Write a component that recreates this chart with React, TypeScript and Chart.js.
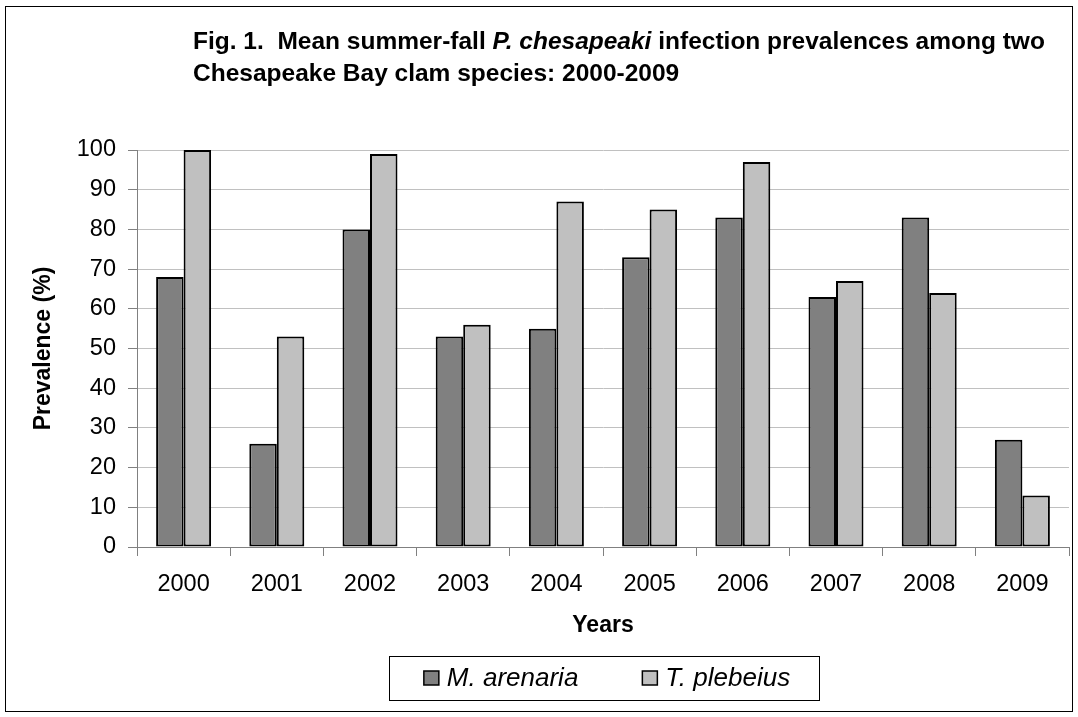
import React, { useEffect, useRef } from 'react';
import { Chart, registerables } from 'chart.js';

Chart.register(...registerables);

const FONT = '"Liberation Sans", Arial, sans-serif';

const years = ['2000', '2001', '2002', '2003', '2004', '2005', '2006', '2007', '2008', '2009'];
const mArenaria = [68, 26, 80, 53, 55, 73, 83, 63, 83, 27];
const tPlebeius = [100, 53, 99, 56, 87, 85, 97, 67, 64, 13];
const seriesNames = ['M. arenaria', 'T. plebeius'];
const seriesColors = ['#808080', '#c0c0c0'];
const yTicksMin = 0;
const yTicksMax = 100;
const yTicksStep = 10;
const titleLine1 = [
  { text: 'Fig. 1.  Mean summer-fall ', italic: false },
  { text: 'P. chesapeaki', italic: true },
  { text: ' infection prevalences among two', italic: false },
];
const titleLine2 = [{ text: 'Chesapeake Bay clam species: 2000-2009', italic: false }];
const yTitle = 'Prevalence (%)';
const xTitle = 'Years';

const decorPlugin = {
  id: 'decor',
  afterDraw(chart: any) {
    const ctx = chart.ctx as CanvasRenderingContext2D;
    const ca = chart.chartArea;
    ctx.save();
    // outer frame
    ctx.strokeStyle = '#000';
    ctx.lineWidth = 1;
    ctx.strokeRect(5.5, 6.5, 1067, 705);

    // title (rich text)
    ctx.fillStyle = '#000';
    ctx.textAlign = 'left';
    ctx.textBaseline = 'alphabetic';
    const drawRich = (segs: { text: string; italic: boolean }[], x: number, y: number) => {
      let cx = x;
      for (const s of segs) {
        ctx.font = `${s.italic ? 'italic ' : ''}bold 24.5px ${FONT}`;
        ctx.fillText(s.text, cx, y);
        cx += ctx.measureText(s.text).width;
      }
    };
    drawRich(titleLine1, ca.left + 56, 49);
    drawRich(titleLine2, ca.left + 56, 81);

    // legend
    const ds = chart.data.datasets;
    const legendFont = `italic 26px ${FONT}`;
    ctx.font = legendFont;
    const widths = ds.map((d: any) => ctx.measureText(d.label).width);
    const marker = 15;
    const gap = 8;
    const itemGap = 64;
    let total = 0;
    widths.forEach((w: number, i: number) => {
      total += marker + gap + w + (i < widths.length - 1 ? itemGap : 0);
    });
    const centerX = (ca.left + ca.right) / 2 + 4;
    const start = centerX - total / 2;
    const boxTop = ca.bottom + 109;
    const boxH = 44;
    ctx.strokeStyle = '#000';
    ctx.lineWidth = 1;
    ctx.strokeRect(Math.round(start - 35) + 0.5, Math.round(boxTop) + 0.5, Math.round(total + 64), boxH);
    let x = start;
    ds.forEach((d: any, i: number) => {
      const my = boxTop + 15;
      ctx.fillStyle = d.backgroundColor;
      ctx.fillRect(x, my, marker, marker - 1);
      ctx.strokeStyle = '#000';
      ctx.lineWidth = 1.5;
      ctx.strokeRect(x, my, marker, marker - 1);
      ctx.fillStyle = '#000';
      ctx.font = legendFont;
      ctx.fillText(d.label, x + marker + gap, boxTop + 30);
      x += marker + gap + widths[i] + itemGap;
    });
    ctx.restore();
  },
};

export default function App() {
  const canvasRef = useRef<HTMLCanvasElement | null>(null);

  useEffect(() => {
    if (!canvasRef.current) return;
    const chart = new Chart(canvasRef.current, {
      type: 'bar',
      data: {
        labels: years,
        datasets: [
          {
            label: seriesNames[0],
            data: mArenaria,
            backgroundColor: seriesColors[0],
            borderColor: '#000',
            borderWidth: 2,
            borderSkipped: false,
            categoryPercentage: 0.59,
            barPercentage: 1,
          },
          {
            label: seriesNames[1],
            data: tPlebeius,
            backgroundColor: seriesColors[1],
            borderColor: '#000',
            borderWidth: 2,
            borderSkipped: false,
            categoryPercentage: 0.59,
            barPercentage: 1,
          },
        ],
      },
      options: {
        animation: false,
        responsive: true,
        maintainAspectRatio: false,
        layout: { padding: { left: 0, top: 150, right: 9, bottom: 0 } },
        plugins: {
          legend: { display: false },
          title: { display: false },
          tooltip: { enabled: false },
        },
        scales: {
          x: {
            grid: {
              offset: true,
              drawOnChartArea: false,
              drawTicks: true,
              tickLength: 9,
              tickColor: '#808080',
            },
            border: { color: '#808080', width: 1 },
            ticks: {
              color: '#000',
              font: { family: FONT, size: 23.5 },
              padding: 14,
              maxRotation: 0,
              autoSkip: false,
            },
            title: {
              display: true,
              text: xTitle,
              color: '#000',
              font: { family: FONT, size: 23, weight: 'bold' },
              padding: { top: 0, bottom: 78 },
            },
            afterFit: (s: any) => {
              s.height = 170;
            },
          },
          y: {
            min: yTicksMin,
            max: yTicksMax,
            grid: {
              color: '#c0c0c0',
              tickColor: '#808080',
              tickLength: 9,
              drawTicks: true,
            },
            border: { color: '#808080', width: 1 },
            ticks: {
              stepSize: yTicksStep,
              color: '#000',
              font: { family: FONT, size: 23.5 },
              padding: 12,
            },
            title: {
              display: true,
              text: yTitle,
              color: '#000',
              font: { family: FONT, size: 23, weight: 'bold' },
              padding: { top: 30, bottom: 0 },
            },
            afterFit: (s: any) => {
              s.width = 137;
            },
          },
        },
      },
      plugins: [decorPlugin],
    });
    return () => chart.destroy();
  }, []);

  return (
    <div style={{ position: 'absolute', left: 0, top: 0, width: 1078, height: 717, background: '#fff' }}>
      <canvas ref={canvasRef} />
    </div>
  );
}
